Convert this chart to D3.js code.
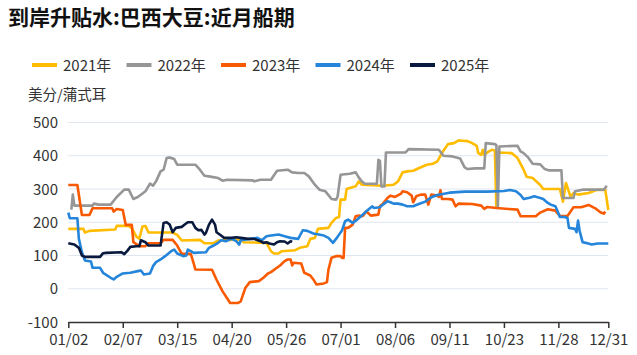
<!DOCTYPE html>
<html>
<head>
<meta charset="utf-8">
<script src="https://cdn.jsdelivr.net/npm/d3@7"></script>
<style>
  body { margin: 0; background: #fff; }
  text { font-family: "Noto Sans CJK SC", "Noto Sans", sans-serif; }
</style>
</head>
<body>
<svg id="chart"></svg>
<script>
const width = 637, height = 355;

// x axis: every day of the year, the October holiday week is not in the data
const categories = d3.timeDay.range(new Date(2021, 0, 2), new Date(2022, 0, 1))
    .filter(d => !(d.getMonth() === 9 && d.getDate() <= 6))
    .map(d3.timeFormat("%m/%d"));
const tickLabels = ["01/02", "02/07", "03/15", "04/20", "05/26", "07/01", "08/06", "09/11", "10/23", "11/28", "12/31"];
const yTicks = [-100, 0, 100, 200, 300, 400, 500];
const seriesNames = ["2021年", "2022年", "2023年", "2024年", "2025年"];
const colors = ["#FFBC00", "#969696", "#F95A00", "#2485DA", "#0A1A3E"];

const s2021 = [["01/02",180],["01/12",180],["01/13",169],["01/16",174],["02/02",178],["02/03",189],["02/11",189],["02/13",182],
  ["02/16",157],["02/18",151],["02/20",187],["02/22",189],["02/24",169],["03/12",169],["03/15",162],["03/18",145],["03/30",147],
  ["04/02",137],["04/08",137],["04/11",145],["04/26",148],["04/28",140],["05/13",138],["05/16",113],["05/18",106],["05/21",106],
  ["05/23",113],["06/01",116],["06/04",123],["06/09",128],["06/11",150],["06/14",153],["06/16",180],["06/23",183],["06/25",198],
  ["06/28",213],["06/30",216],["07/01",268],["07/04",268],["07/05",300],["07/11",308],["07/13",323],["07/15",313],["07/29",310],
  ["08/05",313],["08/08",323],["08/11",350],["08/14",353],["08/18",355],["08/22",363],["08/27",373],["08/31",376],["09/03",383],
  ["09/06",408],["09/10",435],["09/14",438],["09/17",446],["09/23",444],["09/26",438],["09/29",430],["09/30",408],["10/08",403],
  ["10/09",418],["10/10",403],["10/13",413],["10/15",418],["10/17",416],["10/18",247],["10/19",410],["10/28",408],["11/01",393],
  ["11/05",358],["11/07",337],["11/11",333],["11/16",312],["11/18",300],["11/29",300],["12/01",262],["12/03",318],["12/06",277],
  ["12/08",288],["12/11",283],["12/18",288],["12/23",297],["12/29",298],["12/31",237]];

const s2022 = [["01/04",238],["01/05",283],["01/06",250],["01/18",250],["01/19",256],["01/22",253],["01/30",253],["02/03",276],
  ["02/08",298],["02/11",298],["02/14",270],["02/17",276],["02/22",293],["02/25",316],["02/27",310],["03/01",323],["03/04",353],
  ["03/06",358],["03/08",393],["03/10",395],["03/13",390],["03/15",373],["03/27",373],["03/30",358],["04/02",340],["04/05",338],
  ["04/11",333],["04/14",325],["04/17",328],["05/04",326],["05/05",323],["05/09",328],["05/16",328],["05/20",355],["05/27",358],
  ["05/30",350],["06/03",348],["06/07",348],["06/10",338],["06/14",313],["06/17",298],["06/21",293],["06/25",270],["06/28",268],
  ["06/29",276],["07/01",343],["07/07",346],["07/11",350],["07/13",335],["07/15",323],["07/17",316],["07/25",316],["07/26",388],
  ["07/27",385],["07/28",308],["07/30",308],["07/31",410],["08/13",410],["08/15",420],["09/04",418],["09/07",400],["09/13",398],
  ["09/18",392],["09/21",365],["09/23",360],["09/28",362],["10/10",362],["10/11",438],["10/17",435],["10/18",432],["10/19",248],
  ["10/20",428],["11/01",430],["11/03",413],["11/05",408],["11/08",395],["11/11",376],["11/16",374],["11/19",360],["11/22",356],
  ["11/30",356],["12/01",273],["12/08",273],["12/09",293],["12/14",298],["12/28",298],["12/30",310]];

const s2023 = [["01/02",312],["01/08",312],["01/11",222],["01/16",222],["01/18",242],["01/31",242],["02/01",232],["02/03",240],
  ["02/07",237],["02/09",192],["02/13",192],["02/14",140],["02/18",128],["02/22",128],["02/24",137],["03/04",137],["03/06",147],
  ["03/12",147],["03/15",130],["03/18",105],["03/24",105],["03/26",75],["03/27",58],["04/07",57],["04/10",27],["04/14",-8],
  ["04/19",-43],["04/24",-43],["04/26",-38],["04/29",2],["05/02",20],["05/08",23],["05/11",33],["05/14",46],["05/16",50],
  ["05/19",60],["05/22",70],["05/25",83],["05/27",88],["05/29",88],["05/30",70],["05/31",78],["06/05",76],["06/07",48],
  ["06/11",40],["06/13",28],["06/15",13],["06/20",16],["06/22",20],["06/23",58],["06/25",93],["06/28",98],["07/01",98],
  ["07/02",93],["07/03",93],["07/04",183],["07/06",183],["07/09",193],["07/11",218],["07/13",220],["07/15",218],["07/16",220],
  ["07/18",233],["07/21",220],["07/26",223],["07/27",248],["07/29",256],["08/01",273],["08/03",280],["08/06",276],["08/10",286],
  ["08/11",293],["08/14",290],["08/17",280],["08/18",260],["08/20",278],["08/23",283],["08/26",283],["08/28",253],["08/30",283],
  ["09/03",280],["09/04",276],["09/05",296],["09/06",270],["09/10",270],["09/13",268],["09/15",248],["09/17",256],["09/26",255],
  ["10/08",250],["10/10",240],["10/12",246],["10/18",243],["10/26",240],["11/01",238],["11/03",218],["11/13",218],["11/16",229],
  ["11/21",239],["11/26",235],["11/29",219],["12/04",219],["12/08",245],["12/13",245],["12/18",252],["12/23",240],["12/26",229],
  ["12/28",226],["12/29",232]];

const s2024 = [["01/02",229],["01/03",212],["01/08",212],["01/09",150],["01/11",110],["01/13",85],["01/17",82],["01/18",63],
  ["01/23",63],["01/25",48],["01/30",33],["02/01",28],["02/03",36],["02/07",46],["02/12",48],["02/17",53],["02/19",55],
  ["02/21",43],["02/25",46],["02/27",68],["03/01",80],["03/04",88],["03/07",98],["03/11",113],["03/13",118],["03/15",106],
  ["03/19",98],["03/21",100],["03/22",118],["03/24",113],["03/26",108],["04/03",110],["04/05",123],["04/08",130],["04/11",138],
  ["04/13",146],["04/16",143],["04/20",150],["04/23",143],["04/25",133],["04/26",146],["05/07",153],["05/10",146],["05/13",158],
  ["05/16",160],["05/21",163],["05/25",158],["05/29",153],["06/03",150],["06/06",176],["06/09",174],["06/13",166],["06/20",160],
  ["06/23",153],["06/26",138],["06/29",156],["07/02",176],["07/04",203],["07/06",208],["07/09",198],["07/12",208],["07/15",220],
  ["07/18",233],["07/22",248],["07/23",243],["07/27",245],["07/29",253],["08/01",263],["08/03",260],["08/05",256],["08/08",256],
  ["08/11",253],["08/14",248],["08/18",248],["08/20",252],["08/23",257],["08/26",262],["08/30",275],["09/03",282],["09/11",289],
  ["09/21",292],["10/12",292],["10/23",294],["10/27",297],["10/31",293],["11/03",282],["11/05",270],["11/09",274],["11/12",278],
  ["11/16",273],["11/18",270],["11/21",258],["11/23",253],["11/26",248],["11/27",238],["11/29",216],["12/02",216],["12/04",213],
  ["12/05",183],["12/09",180],["12/10",170],["12/11",205],["12/12",175],["12/14",140],["12/16",138],["12/20",133],["12/24",136],
  ["12/31",136]];

const s2025 = [["01/02",137],["01/06",133],["01/09",123],["01/11",100],["01/13",96],["01/23",96],["01/25",107],["01/27",108],
  ["02/06",110],["02/08",104],["02/10",114],["02/12",126],["02/16",128],["02/18",128],["02/19",146],["02/22",140],["02/24",130],
  ["03/04",130],["03/06",198],["03/08",200],["03/10",193],["03/12",170],["03/14",183],["03/18",186],["03/20",193],["03/22",200],
  ["03/25",200],["03/27",183],["03/29",176],["03/31",177],["04/02",163],["04/03",168],["04/05",193],["04/07",208],["04/09",193],
  ["04/10",170],["04/13",160],["04/15",153],["04/20",153],["04/23",155],["04/26",153],["05/01",150],["05/05",150],["05/09",143],
  ["05/11",138],["05/13",140],["05/15",136],["05/18",133],["05/20",140],["05/22",143],["05/25",142],["05/27",136],["05/29",143],
  ["05/30",141]];

const allSeries = [s2021, s2022, s2023, s2024, s2025];

const svg = d3.select("#chart")
    .attr("width", width)
    .attr("height", height);

const x = d3.scalePoint().domain(categories).range([68.3, 608.3]);
const y = d3.scaleLinear().domain([-100, 500]).range([322, 122.5]);

// title
svg.append("text")
    .attr("x", 8).attr("y", 25)
    .attr("font-size", 21).attr("font-weight", "bold")
    .attr("fill", "#111")
    .text("到岸升贴水:巴西大豆:近月船期");

// legend
const legend = svg.append("g").selectAll("g")
    .data(seriesNames)
    .join("g")
    .attr("transform", (d, i) => `translate(${32 + i * 94.5}, 65)`);
legend.append("line")
    .attr("x1", 0).attr("x2", 25)
    .attr("stroke", (d, i) => colors[i])
    .attr("stroke-width", 4);
legend.append("text")
    .attr("x", 31).attr("y", 5.5)
    .attr("font-size", 15).attr("fill", "#333")
    .text(d => d);

// unit label
svg.append("text")
    .attr("x", 28).attr("y", 100)
    .attr("font-size", 14.5).attr("fill", "#333")
    .text("美分/蒲式耳");

// grid lines + y labels
svg.append("g").selectAll("line")
    .data(yTicks.filter(v => v > -100))
    .join("line")
    .attr("x1", 68.3).attr("x2", 608.3)
    .attr("y1", d => y(d)).attr("y2", d => y(d))
    .attr("stroke", "#E0E6F1").attr("stroke-width", 1);

svg.append("g").selectAll("text")
    .data(yTicks)
    .join("text")
    .attr("x", 58).attr("y", d => y(d) + 5.5)
    .attr("text-anchor", "end")
    .attr("font-size", 15).attr("fill", "#333")
    .text(d => d);

// x axis
const xAxis = d3.axisBottom(x)
    .tickValues(tickLabels)
    .tickSize(6)
    .tickSizeOuter(0);
const xg = svg.append("g")
    .attr("transform", `translate(0, ${y(-100)})`)
    .call(xAxis);
xg.select(".domain").attr("stroke", "#333").attr("stroke-width", 1.5);
xg.selectAll(".tick line").attr("stroke", "#333").attr("stroke-width", 1.5);
xg.selectAll(".tick text")
    .attr("font-size", 15).attr("fill", "#333")
    .attr("font-family", "Noto Sans CJK SC, Noto Sans, sans-serif")
    .attr("dy", "0.9em");

// series lines
const line = d3.line()
    .x(d => x(d[0]))
    .y(d => y(d[1]));

svg.append("g").selectAll("path")
    .data(allSeries)
    .join("path")
    .attr("d", line)
    .attr("fill", "none")
    .attr("stroke", (d, i) => colors[i])
    .attr("stroke-width", 2.6)
    .attr("stroke-linejoin", "round");
</script>
</body>
</html>
